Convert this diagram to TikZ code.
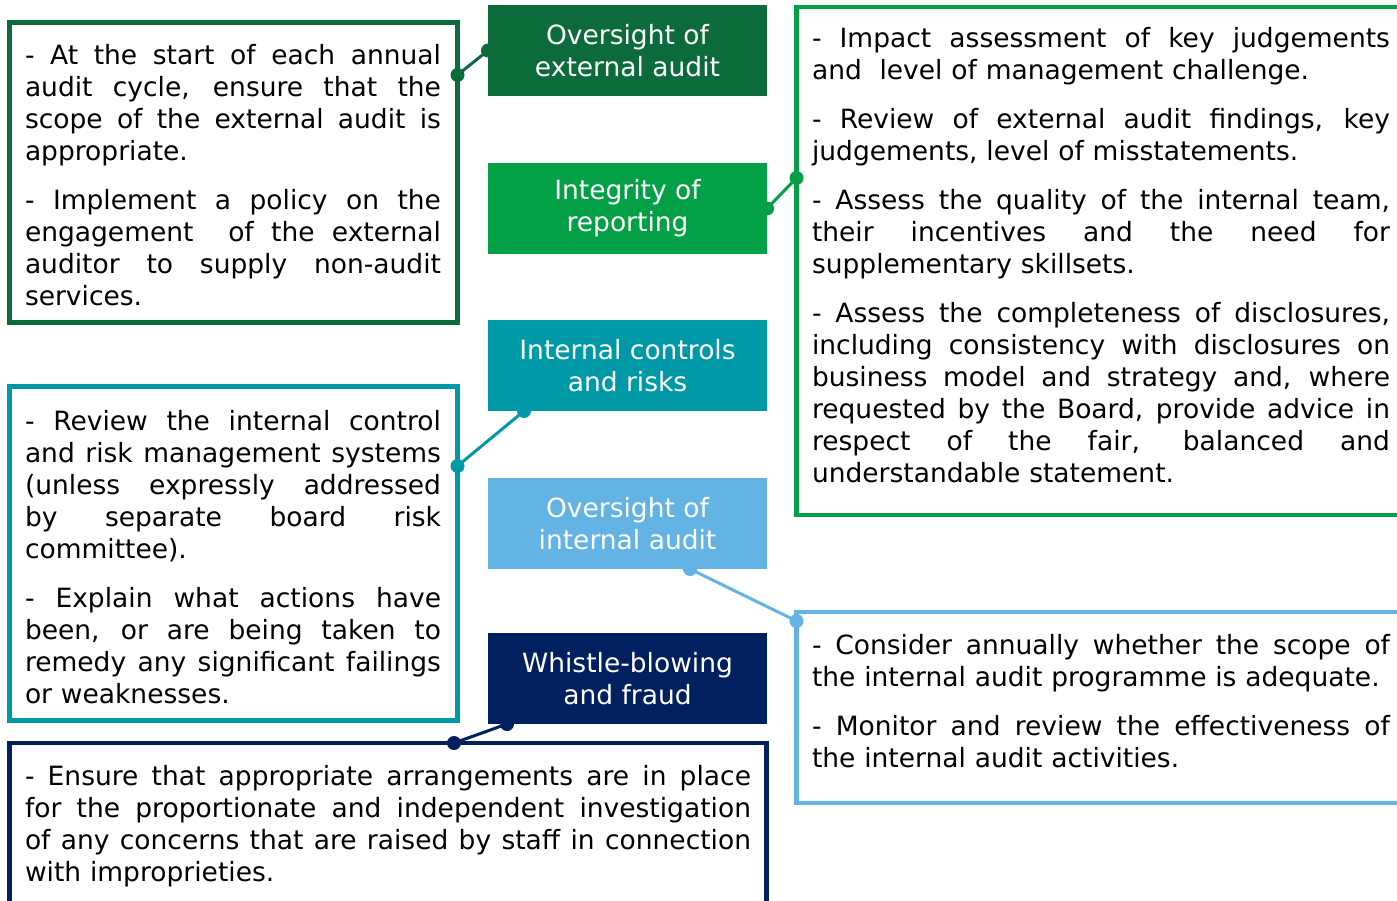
\documentclass[tikz,border=0pt]{standalone}
\usepackage{fontspec}
\setmainfont{DejaVu Sans}
\definecolor{cDG}{HTML}{0B6B3A}
\definecolor{cG}{HTML}{03A045}
\definecolor{cT}{HTML}{0099A8}
\definecolor{cLB}{HTML}{63B4E4}
\definecolor{cN}{HTML}{002060}
\newlength\bodyw
\newcommand\JL[1]{\hbox to \bodyw{\spaceskip=0.33em plus 1fill\relax #1}}
\newcommand\LL[1]{\hbox{#1}}
\newcommand\PS{\vskip 17pt}
\tikzset{
 lab/.style={fill=#1, text=white, minimum width=279, minimum height=91, inner sep=0, outer sep=0, align=center, font=\fontsize{26.5}{32}\selectfont, anchor=north west},
 frame/.style={draw=#1, line width=4.5, inner sep=0, outer sep=0, anchor=north west},
 body/.style={text width=#1, inner sep=0, outer sep=0, anchor=base west, font=\fontsize{26.5}{32}\selectfont, text=black},
 conn/.style={draw=#1, line width=3},
 dot/.style={fill=#1, circle, inner sep=0, minimum size=14}
}
\begin{document}
\begin{tikzpicture}[x=1pt,y=-1pt]
\useasboundingbox (0,0) rectangle (1397,901);
% frames
\node[frame=cDG, minimum width=448, minimum height=300] (b1) at (9.5,22.5) {};
\node[frame=cG, minimum width=606, minimum height=508] (bRT) at (796.5,7) {};
\node[frame=cT, minimum width=448, minimum height=334] (bLM) at (9.5,386.5) {};
\node[frame=cLB, minimum width=606, minimum height=191] (bRB) at (796.5,612) {};
\node[frame=cN, minimum width=757, minimum height=170] (bB) at (9.5,743) {};
% labels
\node[lab=cDG] (L1) at (488,5) {Oversight of\\external audit};
\node[lab=cG] (L2) at (488,163) {Integrity of\\reporting};
\node[lab=cT] (L3) at (488,320) {Internal controls\\and risks};
\node[lab=cLB] (L4) at (488,478) {Oversight of\\internal audit};
\node[lab=cN] (L5) at (488,633) {Whistle-blowing\\and fraud};
% texts
\node[body=416] (t1) at (25,65) {\setlength\bodyw{416pt}%
\JL{- At the start of each annual}
\JL{audit cycle, ensure that the}
\JL{scope of the external audit is}
\LL{appropriate.}
\PS
\JL{- Implement a policy on the}
\JL{engagement \ of the external}
\JL{auditor to supply non-audit}
\LL{services.}};
\node[body=578] (tRT) at (812,48) {\setlength\bodyw{578pt}%
\JL{- Impact assessment of key judgements}
\LL{and \ level of management challenge.}
\PS
\JL{- Review of external audit findings, key}
\LL{judgements, level of misstatements.}
\PS
\JL{- Assess the quality of the internal team,}
\JL{their incentives and the need for}
\LL{supplementary skillsets.}
\PS
\JL{- Assess the completeness of disclosures,}
\JL{including consistency with disclosures on}
\JL{business model and strategy and, where}
\JL{requested by the Board, provide advice in}
\JL{respect of the fair, balanced and}
\LL{understandable statement.}};
\node[body=416] (tLM) at (25,430) {\setlength\bodyw{416pt}%
\JL{- Review the internal control}
\JL{and risk management systems}
\JL{(unless expressly addressed}
\JL{by separate board risk}
\LL{committee).}
\PS
\JL{- Explain what actions have}
\JL{been, or are being taken to}
\JL{remedy any significant failings}
\LL{or weaknesses.}};
\node[body=578] (tRB) at (812,654) {\setlength\bodyw{578pt}%
\JL{- Consider annually whether the scope of}
\LL{the internal audit programme is adequate.}
\PS
\JL{- Monitor and review the effectiveness of}
\LL{the internal audit activities.}};
\node[body=726] (tB) at (25,785) {\setlength\bodyw{726pt}%
\JL{- Ensure that appropriate arrangements are in place}
\JL{for the proportionate and independent investigation}
\JL{of any concerns that are raised by staff in connection}
\LL{with improprieties.}};
% connector points
\coordinate (c1a) at (L1.west);
\coordinate (c1b) at (b1.east |- 0,75);
\coordinate (c2a) at (L2.east);
\coordinate (c2b) at (bRT.west |- 0,178);
\coordinate (c3a) at (L3.south -| 524,0);
\coordinate (c3b) at (bLM.east |- 0,466);
\coordinate (c4a) at (L4.south -| 690,0);
\coordinate (c4b) at (bRB.west |- 0,621);
\coordinate (c5a) at (L5.south -| 507,0);
\coordinate (c5b) at (bB.north -| 454,0);
\draw[conn=cDG] (c1a) -- (c1b);
\draw[conn=cG] (c2a) -- (c2b);
\draw[conn=cT] (c3a) -- (c3b);
\draw[conn=cLB] (c4a) -- (c4b);
\draw[conn=cN] (c5a) -- (c5b);
\foreach \p/\c in {c1a/cDG,c1b/cDG,c2a/cG,c2b/cG,c3a/cT,c3b/cT,c4a/cLB,c4b/cLB,c5a/cN,c5b/cN}
  \node[dot=\c] at (\p) {};
\end{tikzpicture}
\end{document}
